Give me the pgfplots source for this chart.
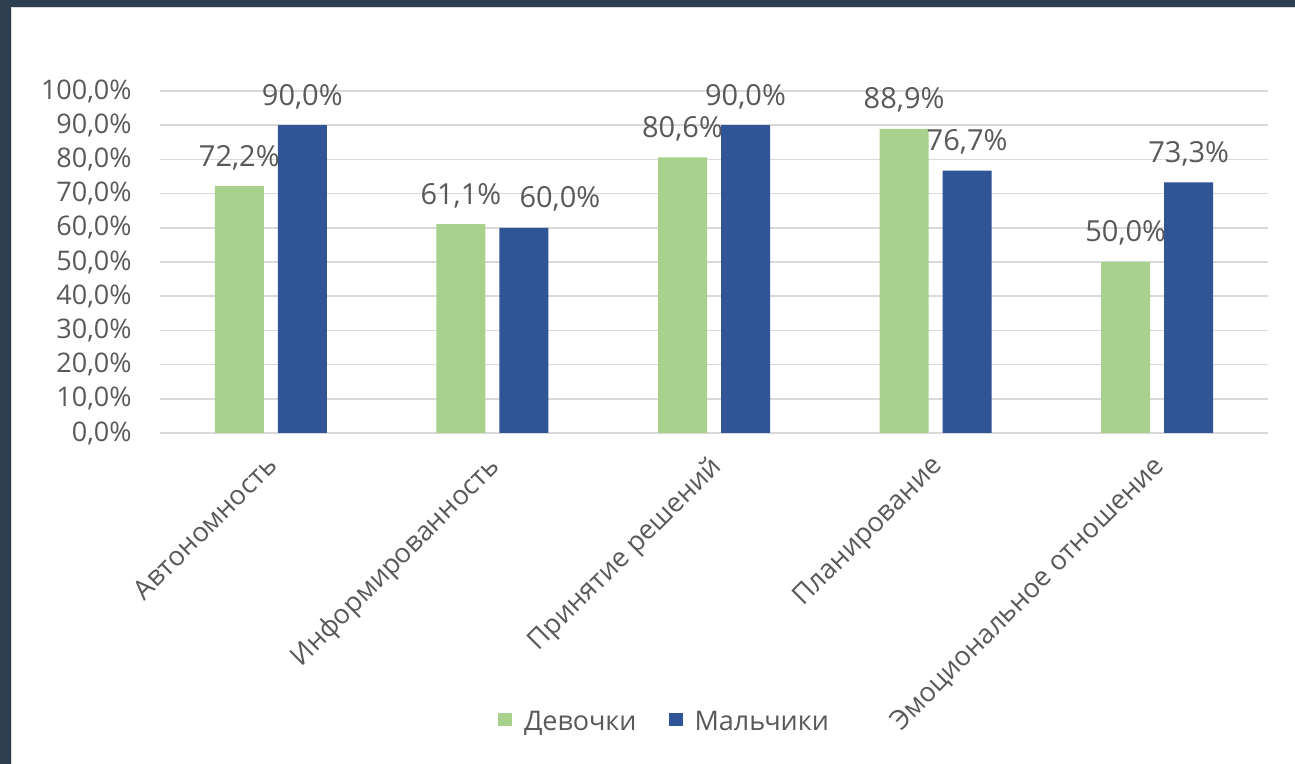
\documentclass[border=0pt]{standalone}
\usepackage{fontspec}
\setmainfont{Open Sans}
\usepackage{pgfplots}
\usepackage{pgfplotstable}
\pgfplotsset{compat=1.18}
\definecolor{girls}{HTML}{A9D18E}
\definecolor{boys}{HTML}{2F5597}
\definecolor{txt}{HTML}{595959}
\definecolor{gridc}{HTML}{D9D9D9}
\definecolor{framec}{HTML}{2C3E50}

\pgfplotstableread{
x g b dxg dxb
0 72.2 90.0 0 0
1 61.1 60.0 0 18
2 80.6 90.0 0 0
3 88.9 76.7 0 0
4 50.0 73.3 0 0
}\datatable

\begin{document}
\begin{tikzpicture}
\fill[framec] (-80pt,-165.5pt) rectangle (567.5pt,216.5pt);
\fill[white] (-74.5pt,-165.5pt) rectangle (567.5pt,213pt);
\draw[gridc, line width=0.5pt] (-74.25pt,-165.5pt) -- (-74.25pt,212.75pt) -- (567.5pt,212.75pt);
\begin{axis}[
  at={(0,0)}, anchor=south west,
  scale only axis, width=554pt, height=171pt,
  xmin=-0.5, xmax=4.5, ymin=0, ymax=100,
  ybar=7pt, bar width=24.5pt,
  axis line style={draw=none},
  major tick length=0pt,
  ymajorgrids, grid style={gridc, line width=0.75pt},
  xtick={0,1,2,3,4},
  xticklabels={Автономность, Информированность, Принятие решений, Планирование, Эмоциональное отношение},
  ytick={0,10,...,100},
  yticklabels={{0,0\%},{10,0\%},{20,0\%},{30,0\%},{40,0\%},{50,0\%},{60,0\%},{70,0\%},{80,0\%},{90,0\%},{100,0\%}},
  tick label style={font=\fontsize{13.5}{15}\selectfont, text=txt},
  yticklabel style={anchor=east, inner sep=0pt, xshift=-14pt},
  xticklabel style={xshift=-3pt, yshift=-10pt, rotate=45, anchor=north east, inner sep=0pt},
  /pgf/number format/assume math mode=true,
  nodes near coords={\pgfmathprintnumber[fixed,fixed zerofill,precision=1,use comma]{\pgfplotspointmeta}\%},
  every node near coord/.append style={font=\fontsize{14.5}{16}\selectfont, text=txt, anchor=base, yshift=10pt, xshift=\dx pt},
  legend style={at={(0.4562,-0.845)}, anchor=center, draw=none, fill=none,
    legend columns=2, font=\fontsize{13.5}{15}\selectfont, text=txt,
    /tikz/every even column/.append style={column sep=14pt}},
  legend image code/.code={\fill[#1] (0pt,-2.25pt) rectangle (7pt,4.25pt); \path (11pt,0pt);},
]
\addplot[fill=girls, draw=none,
  visualization depends on={\thisrow{dxg} \as \dx}]
  table[x=x,y=g]{\datatable};
\addplot[fill=boys, draw=none,
  visualization depends on={\thisrow{dxb} \as \dx}]
  table[x=x,y=b]{\datatable};
\legend{Девочки, Мальчики}
\end{axis}
\pgfresetboundingbox
\useasboundingbox (-80pt,-165.5pt) rectangle (567.5pt,216.5pt);
\end{tikzpicture}
\end{document}
